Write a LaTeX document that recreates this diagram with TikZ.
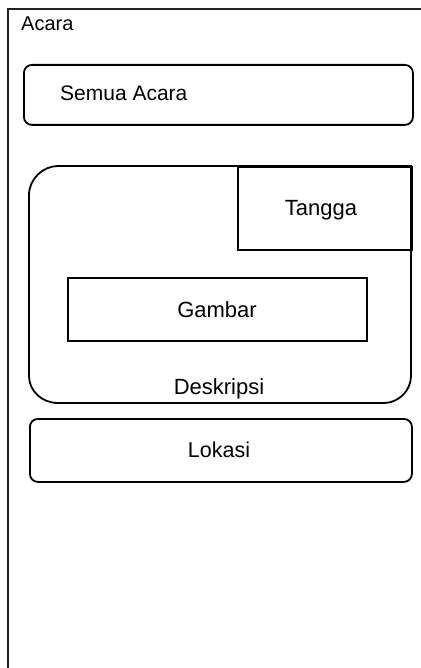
\documentclass[tikz,border=0pt]{standalone}
\usepackage{fontspec}
\setmainfont{Liberation Sans}
\begin{document}
\begin{tikzpicture}[x=1pt,y=-1pt,
  box/.style={draw=black, line width=1.8pt, inner sep=0pt, anchor=north west},
  lbl/.style={inner sep=0pt, font=\fontsize{20}{24}\selectfont},
  big/.style={inner sep=0pt, font=\fontsize{22}{26}\selectfont},
  frame/.style={draw=black!87, line width=2.5pt}]
\useasboundingbox (0,0) rectangle (420,668);
% outer frame (cut off at right and bottom)
\draw[frame] (421,9) -- (8,9) -- (8,669);
\node[lbl, anchor=base west] (acara) at (21,31) {Acara};
% Semua Acara
\node[box, rounded corners=8pt, minimum width=389pt, minimum height=60pt] (semua) at (23,64) {};
\node[inner sep=0pt, font=\fontsize{21}{25}\selectfont, anchor=base west] (semuat) at (60,101) {Semua Acara};
% big card
\draw[line width=1.8pt] (29,195) .. controls (29,179) and (43,166) .. (58,166) -- (411,166) -- (411,376)
  .. controls (411,391) and (398,403) .. (384,403) -- (58,403)
  .. controls (42,403) and (29,391) .. (29,376) -- cycle;
\node[box, minimum width=174pt, minimum height=83pt] (tangga) at (237,166) {};
\node[big, anchor=base] (tanggat) at (321,215) {Tangga};
\node[box, minimum width=299pt, minimum height=63pt] (gambar) at (67,277) {};
\node[big, anchor=base] (gambart) at (217,317) {Gambar};
\node[big, anchor=base] (deskt) at (219,394) {Deskripsi};
% Lokasi
\node[box, rounded corners=8pt, minimum width=382pt, minimum height=63pt] (lokasi) at (29,418) {};
\node[inner sep=0pt, font=\fontsize{21.5}{25}\selectfont, anchor=base] (lokasit) at (219,457) {Lokasi};
\end{tikzpicture}
\end{document}
